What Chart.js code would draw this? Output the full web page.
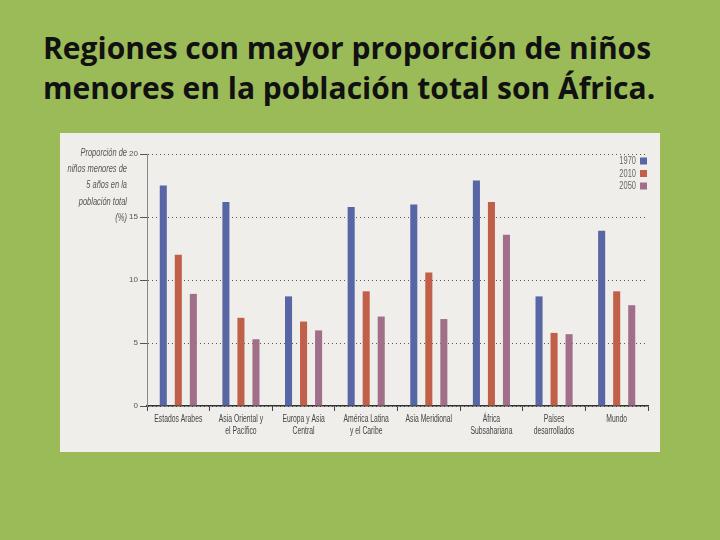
<!DOCTYPE html>
<html>
<head>
<meta charset="utf-8">
<script src="https://cdn.jsdelivr.net/npm/chart.js@4.4.1/dist/chart.umd.min.js"></script>
<style>
  html, body { margin: 0; padding: 0; }
  body { width: 720px; height: 540px; background: #9bbb59; position: relative; overflow: hidden; }
  #title {
    position: absolute; left: 43px; top: 28px; margin: 0;
    font-family: "Open Sans", sans-serif; font-weight: 700; font-size: 30px;
    line-height: 40px; color: #111; white-space: nowrap;
  }
  #panel { position: absolute; left: 60px; top: 133px; width: 600px; height: 319px; background: #efeeea; }
</style>
</head>
<body>
<h1 id="title">Regiones con mayor proporción de niños<br>menores en la población total son África.</h1>
<div id="panel"><canvas id="chart" width="600" height="319"></canvas></div>
<script>
const categories = [
  ['Estados Arabes'],
  ['Asia Oriental y', 'el Pacífico'],
  ['Europa y Asia', 'Central'],
  ['América Latina', 'y el Caribe'],
  ['Asia Meridional'],
  ['África', 'Subsahariana'],
  ['Países', 'desarrollados'],
  ['Mundo']
];
const years = ['1970', '2010', '2050'];
const values1970 = [17.5, 16.2, 8.7, 15.8, 16.0, 17.9, 8.7, 13.9];
const values2010 = [12.0, 7.0, 6.7, 9.1, 10.6, 16.2, 5.8, 9.1];
const values2050 = [8.9, 5.3, 6.0, 7.1, 6.9, 13.6, 5.7, 8.0];
const yTitle = ['Proporción de', 'niños menores de', '5 años en la', 'población total', '(%)'];

const colors = ['#5866a6', '#c0604a', '#a26f8b'];
const font = '"Liberation Sans", sans-serif';
const squeeze = 0.68; // the source uses a very condensed face

// draw text squeezed horizontally, anchored at x
function narrowText(c, text, x, y) {
  c.save();
  c.translate(x, y);
  c.scale(squeeze, 1);
  c.fillText(text, 0, 0);
  c.restore();
}

// y axis caption, category labels and legend
const extras = {
  id: 'extras',
  afterDraw(chart) {
    const c = chart.ctx;
    const area = chart.chartArea;
    const xs = chart.scales.x;
    c.save();
    c.textBaseline = 'middle';

    c.fillStyle = '#555';
    c.textAlign = 'right';
    c.font = 'italic 11px ' + font;
    yTitle.forEach((t, i) => narrowText(c, t, 67, area.top - 1 + i * 16.2));

    c.fillStyle = '#444';
    c.textAlign = 'center';
    c.font = '10px ' + font;
    categories.forEach((lines, i) => {
      const x = xs.getPixelForValue(i);
      lines.forEach((t, j) => narrowText(c, t, x, area.bottom + 13 + j * 12));
    });

    c.textAlign = 'right';
    c.font = '11px ' + font;
    chart.data.datasets.forEach((ds, i) => {
      const y = area.top + 7 + i * 12.5;
      c.fillStyle = '#666';
      narrowText(c, ds.label, area.right - 12, y);
      c.fillStyle = ds.backgroundColor;
      c.fillRect(area.right - 8, y - 3.5, 7, 7);
    });
    c.restore();
  }
};

new Chart(document.getElementById('chart'), {
  type: 'bar',
  data: {
    labels: categories,
    datasets: [
      { label: years[0], data: values1970, backgroundColor: colors[0] },
      { label: years[1], data: values2010, backgroundColor: colors[1] },
      { label: years[2], data: values2050, backgroundColor: colors[2] }
    ]
  },
  options: {
    responsive: false,
    animation: false,
    layout: { padding: { top: 21, right: 12, left: 0, bottom: 0 } },
    datasets: { bar: { categoryPercentage: 0.72, barPercentage: 0.47 } },
    plugins: { legend: { display: false }, tooltip: { enabled: false } },
    scales: {
      x: {
        afterFit(scale) { scale.height = 46; },
        grid: { offset: true, drawOnChartArea: false, drawTicks: true, tickLength: 5, color: '#444' },
        border: { color: '#333', width: 1.5 },
        ticks: { display: false }
      },
      y: {
        min: 0,
        max: 20,
        afterFit(scale) { scale.width = 87; },
        ticks: { stepSize: 5, color: '#555', font: { family: font, size: 8 }, padding: 2 },
        grid: { color: '#555', tickLength: 7, lineWidth: 1 },
        border: { color: '#888', width: 1, dash: [1, 3] }
      }
    }
  },
  plugins: [extras]
});
</script>
</body>
</html>
